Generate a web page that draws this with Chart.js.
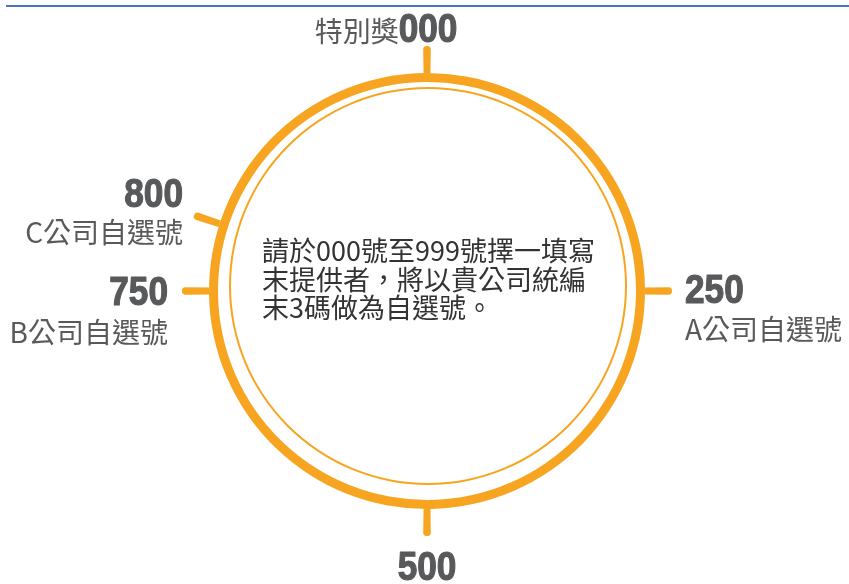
<!DOCTYPE html>
<html>
<head>
<meta charset="utf-8">
<script src="https://cdn.jsdelivr.net/npm/chart.js@4/dist/chart.umd.min.js"></script>
<style>
    body { margin: 0; background: #fff; }
    #wrap { position: relative; width: 849px; height: 584px; }
    #wrap canvas { position: absolute; left: 0; top: 0; }
</style>
</head>
<body>
<div id="wrap">
    <canvas id="dial" width="849" height="584"></canvas>
    <canvas id="inner" width="849" height="584"></canvas>
</div>
<script>
// dial runs 000 -> 999, ticks mark the special numbers
const dialTotal = 1000;
const tickValues = [0, 250, 500, 750, 800];
const tickNumbers = ['000', '250', '500', '750', '800'];
const tickNames = ['特別獎', 'A公司自選號', '', 'B公司自選號', 'C公司自選號'];
const noteLines = ['請於000號至999號擇一填寫', '末提供者，將以貴公司統編', '末3碼做為自選號。'];

const orange = '#f7a520';
const grey = '#58595b';
const tickWidth = 5; // in dial units

// tick ring: orange slivers at each tick value, transparent gaps between
var tickData = [];
var tickColors = [];
for (var i = 0; i < tickValues.length; i++) {
    var next = i + 1 < tickValues.length ? tickValues[i + 1] : dialTotal;
    tickData.push(tickWidth, next - tickValues[i] - tickWidth);
    tickColors.push(orange, 'rgba(0,0,0,0)');
}

// label placement relative to the outer end of each tick
var labelPos = [
    {dx: 1, dy: -4, align: 'center', nameDy: -4},
    {dx: 13, dy: 12, align: 'left', nameDy: 49},
    {dx: 0, dy: 44, align: 'center', nameDy: 0},
    {dx: -14, dy: 14, align: 'right', nameDy: 52},
    {dx: -11, dy: -8, align: 'right', nameDy: 28}
];

function drawNumber(ctx, text, x, y, align) {
    ctx.save();
    ctx.font = 'bold 40px "Liberation Sans", Arial, sans-serif';
    ctx.fillStyle = grey;
    ctx.strokeStyle = grey;
    ctx.lineWidth = 1.2;
    ctx.lineJoin = 'round';
    ctx.textBaseline = 'alphabetic';
    ctx.textAlign = align;
    ctx.translate(x, y);
    ctx.scale(0.88, 1);
    ctx.fillText(text, 0, 0);
    ctx.strokeText(text, 0, 0);
    var w = ctx.measureText(text).width * 0.88;
    ctx.restore();
    return w;
}

const labelsPlugin = {
    id: 'labels',
    beforeDraw(chart) {
        var ctx = chart.ctx;
        ctx.save();
        ctx.fillStyle = '#4677c0';
        ctx.fillRect(6, 5, chart.width - 6, 2);
        ctx.restore();
    },
    afterDraw(chart) {
        var ctx = chart.ctx;
        var meta = chart.getDatasetMeta(0);
        var arc = meta.data[0];
        var cx = arc.x, cy = arc.y, r = arc.outerRadius;

        for (var i = 0; i < tickValues.length; i++) {
            // angle of the middle of the tick sliver
            var seg = meta.data[i * 2];
            var a = (seg.startAngle + seg.endAngle) / 2;
            var ex = cx + r * Math.cos(a);
            var ey = cy + r * Math.sin(a);
            var p = labelPos[i];
            var w = drawNumber(ctx, tickNumbers[i], ex + p.dx, ey + p.dy, p.align);
            if (!tickNames[i]) continue;

            ctx.save();
            ctx.font = '28px "Noto Sans CJK TC", sans-serif';
            ctx.fillStyle = grey;
            if (p.align === 'center') {
                // name sits to the left of the number on the same line
                ctx.textAlign = 'right';
                ctx.fillText(tickNames[i], ex + p.dx - w / 2, ey + p.nameDy);
            } else {
                ctx.textAlign = p.align;
                ctx.fillText(tickNames[i], ex + p.dx, ey + p.nameDy);
            }
            ctx.restore();
        }

        // note in the middle of the dial
        ctx.save();
        ctx.font = '27px "Noto Sans CJK TC", sans-serif';
        ctx.fillStyle = '#333333';
        ctx.textAlign = 'left';
        for (var j = 0; j < noteLines.length; j++) {
            ctx.fillText(noteLines[j], 262, 261 + j * 28.5);
        }
        ctx.restore();
    }
};

new Chart(document.getElementById('dial'), {
    type: 'doughnut',
    data: {
        labels: tickData.map(function (v, k) { return String(k); }),
        datasets: [
            {
                data: tickData,
                backgroundColor: tickColors,
                borderWidth: 0,
                weight: 27,
                borderRadius: {outerStart: 3.5, outerEnd: 3.5, innerStart: 0, innerEnd: 0}
            },
            {
                data: [dialTotal],
                backgroundColor: [orange],
                borderWidth: 0,
                weight: 9
            }
        ]
    },
    options: {
        responsive: false,
        animation: false,
        rotation: -tickWidth / 2 * 360 / dialTotal,
        cutout: 209,
        layout: {padding: {top: 46, bottom: 48, left: 182, right: 177}},
        plugins: {legend: {display: false}, tooltip: {enabled: false}}
    },
    plugins: [labelsPlugin]
});

// thin inner circle sits a little higher than the thick ring
new Chart(document.getElementById('inner'), {
    type: 'doughnut',
    data: {
        labels: ['all'],
        datasets: [{data: [dialTotal], backgroundColor: [orange], borderWidth: 0}]
    },
    options: {
        responsive: false,
        animation: false,
        cutout: 197,
        layout: {padding: {top: 87, bottom: 99, left: 229, right: 222}},
        plugins: {legend: {display: false}, tooltip: {enabled: false}}
    }
});
</script>
</body>
</html>
